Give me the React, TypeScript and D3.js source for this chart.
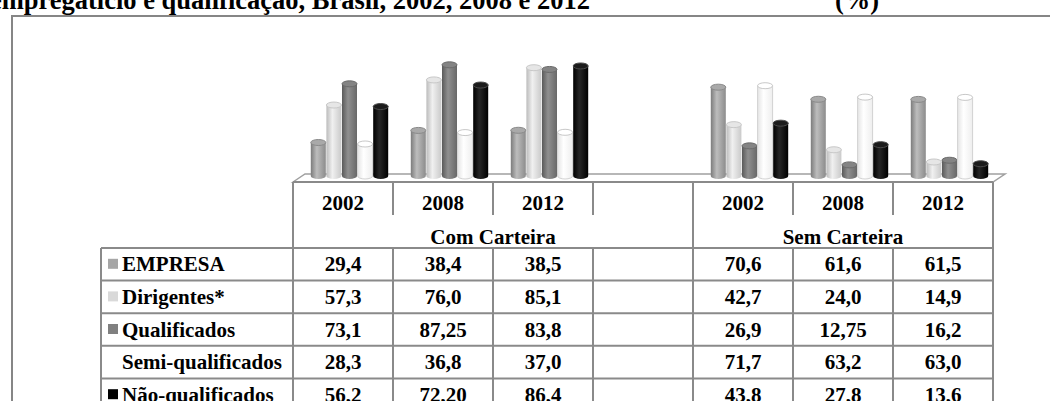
import React from "react";
import * as d3 from "d3";

// ---- data ----
const years = ["2002", "2008", "2012"];
const groupNames = ["Com Carteira", "Sem Carteira"];
const seriesNames = ["EMPRESA", "Dirigentes*", "Qualificados", "Semi-qualificados", "Não-qualificados"];

const empresaCom = ["29,4", "38,4", "38,5"];
const empresaSem = ["70,6", "61,6", "61,5"];
const dirigentesCom = ["57,3", "76,0", "85,1"];
const dirigentesSem = ["42,7", "24,0", "14,9"];
const qualificadosCom = ["73,1", "87,25", "83,8"];
const qualificadosSem = ["26,9", "12,75", "16,2"];
const semiCom = ["28,3", "36,8", "37,0"];
const semiSem = ["71,7", "63,2", "63,0"];
const naoCom = ["56,2", "72,20", "86,4"];
const naoSem = ["43,8", "27,8", "13,6"];

const seriesCom = [empresaCom, dirigentesCom, qualificadosCom, semiCom, naoCom];
const seriesSem = [empresaSem, dirigentesSem, qualificadosSem, semiSem, naoSem];

const titleText = "empregatício e qualificação, Brasil, 2002, 2008 e 2012";
const unitText = "(%)";

// ---- styles ----
const gradStops = [
  ["#7c7c7c", "#bdbdbd", "#8c8c8c"],
  ["#bcbcbc", "#f0f0f0", "#cacaca"],
  ["#5a5a5a", "#909090", "#686868"],
  ["#e4e4e4", "#ffffff", "#eeeeee"],
  ["#000000", "#262626", "#000000"],
];
const capFill = ["#a9a9a9", "#e6e6e6", "#848484", "#ffffff", "#1c1c1c"];
const capStroke = ["#8a8a8a", "#c8c8c8", "#6a6a6a", "#c8c8c8", "#4a4a4a"];
const keyFill = ["#a6a6a6", "#d9d9d9", "#808080", "#ffffff", "#000000"];

const W = 1050;
const H = 401;
const gridColor = "#8a8a8a";
const font = "Liberation Serif";

const parse = (s: string) => +s.replace(",", ".");

export default function App() {
  const colIdx = d3.range(7);
  const colX = d3.scaleBand<number>().domain(colIdx).range([293, 993]).padding(0);
  const barX = d3.scaleBand<number>().domain(d3.range(5)).range([17.8, 17.8 + 78]).padding(0);
  const y = d3.scaleLinear().domain([0, 100]).range([182, 47.7]);
  const yB = 176;
  const ry = 3;

  const columns: { g: number; i: number; year: string }[] = [];
  groupNames.forEach((_, g) => {
    years.forEach((yr, i) => columns.push({ g, i, year: yr }));
    if (g === 0) columns.push({ g, i: -1, year: "" });
  });

  const tableLeft = 101;
  const rowTop = 248;
  const rowH = 32.6;

  const bars: any[] = [];
  columns.forEach((c, ci) => {
    if (c.i < 0) return;
    const src = c.g === 0 ? seriesCom : seriesSem;
    src.forEach((arr, s) => {
      const v = parse(arr[c.i]);
      const x = (colX(ci) as number) + (barX(s) as number);
      const w = barX.bandwidth() - 0.6;
      const yT = y(v);
      const rx = w / 2;
      const d = `M${x},${yT} V${yB} A${rx},${ry} 0 0 0 ${x + w},${yB} V${yT} Z`;
      bars.push(
        <g key={`b${ci}-${s}`}>
          <path d={d} fill={`url(#g${s})`} stroke={s === 3 ? "#d2d2d2" : "none"} strokeWidth={1} />
          <ellipse cx={x + rx} cy={yT} rx={rx} ry={ry} fill={capFill[s]} stroke={capStroke[s]} strokeWidth={1} />
        </g>
      );
    });
  });

  const lines: any[] = [];
  const colEdges = d3.range(8).map((k) => 293 + k * colX.bandwidth());
  colEdges.forEach((x, k) => {
    const full = k === 0 || k === 4 || k === 7;
    lines.push(
      <line key={`hv${k}`} x1={x} x2={x} y1={182} y2={full ? H + 5 : 215} stroke={gridColor} strokeWidth={2} />
    );
    if (!full)
      lines.push(<line key={`dv${k}`} x1={x} x2={x} y1={rowTop} y2={H + 5} stroke={gridColor} strokeWidth={2} />);
  });
  lines.push(<line key="lv" x1={tableLeft} x2={tableLeft} y1={rowTop} y2={H + 5} stroke={gridColor} strokeWidth={2} />);
  lines.push(<line key="top" x1={293} x2={993} y1={182} y2={182} stroke={gridColor} strokeWidth={2} />);
  d3.range(6).forEach((r) => {
    const yy = rowTop + r * rowH;
    lines.push(<line key={`h${r}`} x1={tableLeft} x2={993} y1={yy} y2={yy} stroke={gridColor} strokeWidth={2} />);
  });

  const texts: any[] = [];
  columns.forEach((c, ci) => {
    const cx = (colX(ci) as number) + colX.bandwidth() / 2;
    if (c.year)
      texts.push(
        <text key={`yr${ci}`} x={cx} y={210} textAnchor="middle">
          {c.year}
        </text>
      );
    if (c.i >= 0) {
      const src = c.g === 0 ? seriesCom : seriesSem;
      src.forEach((arr, s) => {
        texts.push(
          <text key={`v${ci}-${s}`} x={cx} y={rowTop + s * rowH + rowH / 2 + 7} textAnchor="middle">
            {arr[c.i]}
          </text>
        );
      });
    }
  });
  groupNames.forEach((gname, g) => {
    const cols = columns.map((c, ci) => ({ c, ci })).filter((o) => o.c.g === g);
    const x0 = colX(cols[0].ci) as number;
    const x1 = (colX(cols[cols.length - 1].ci) as number) + colX.bandwidth();
    texts.push(
      <text key={`grp${g}`} x={(x0 + x1) / 2} y={244} textAnchor="middle">
        {gname}
      </text>
    );
  });
  seriesNames.forEach((name, s) => {
    const cy = rowTop + s * rowH + rowH / 2;
    texts.push(<rect key={`k${s}`} x={108} y={cy - 5.5} width={10} height={10} fill={keyFill[s]} />);
    texts.push(
      <text key={`l${s}`} x={122} y={cy + 7} textAnchor="start">
        {name}
      </text>
    );
  });

  return (
    <svg
      width={W}
      height={H}
      style={{ position: "absolute", left: 0, top: 0, background: "#fff", fontFamily: font, fontWeight: 700 }}
    >
      <defs>
        {gradStops.map((st, s) => (
          <linearGradient key={s} id={`g${s}`} x1="0" x2="1" y1="0" y2="0">
            <stop offset="0" stopColor={st[0]} />
            <stop offset="0.4" stopColor={st[1]} />
            <stop offset="1" stopColor={st[2]} />
          </linearGradient>
        ))}
      </defs>
      <rect x={0} y={0} width={W} height={H} fill="#fff" />
      <text x={590} y={9} fontSize={26.5} textAnchor="end">
        {titleText}
      </text>
      <text x={857} y={9} fontSize={26.5} textAnchor="middle">
        {unitText}
      </text>
      <rect x={12} y={16} width={W + 20} height={H + 20} fill="none" stroke="#868686" strokeWidth={2} />
      <polygon points="293,182 305,174 1005,174 993,182" fill="#fff" stroke="#a0a0a0" strokeWidth={1.5} />
      {bars}
      {lines}
      <g fontSize={21} fill="#000">
        {texts}
      </g>
    </svg>
  );
}
